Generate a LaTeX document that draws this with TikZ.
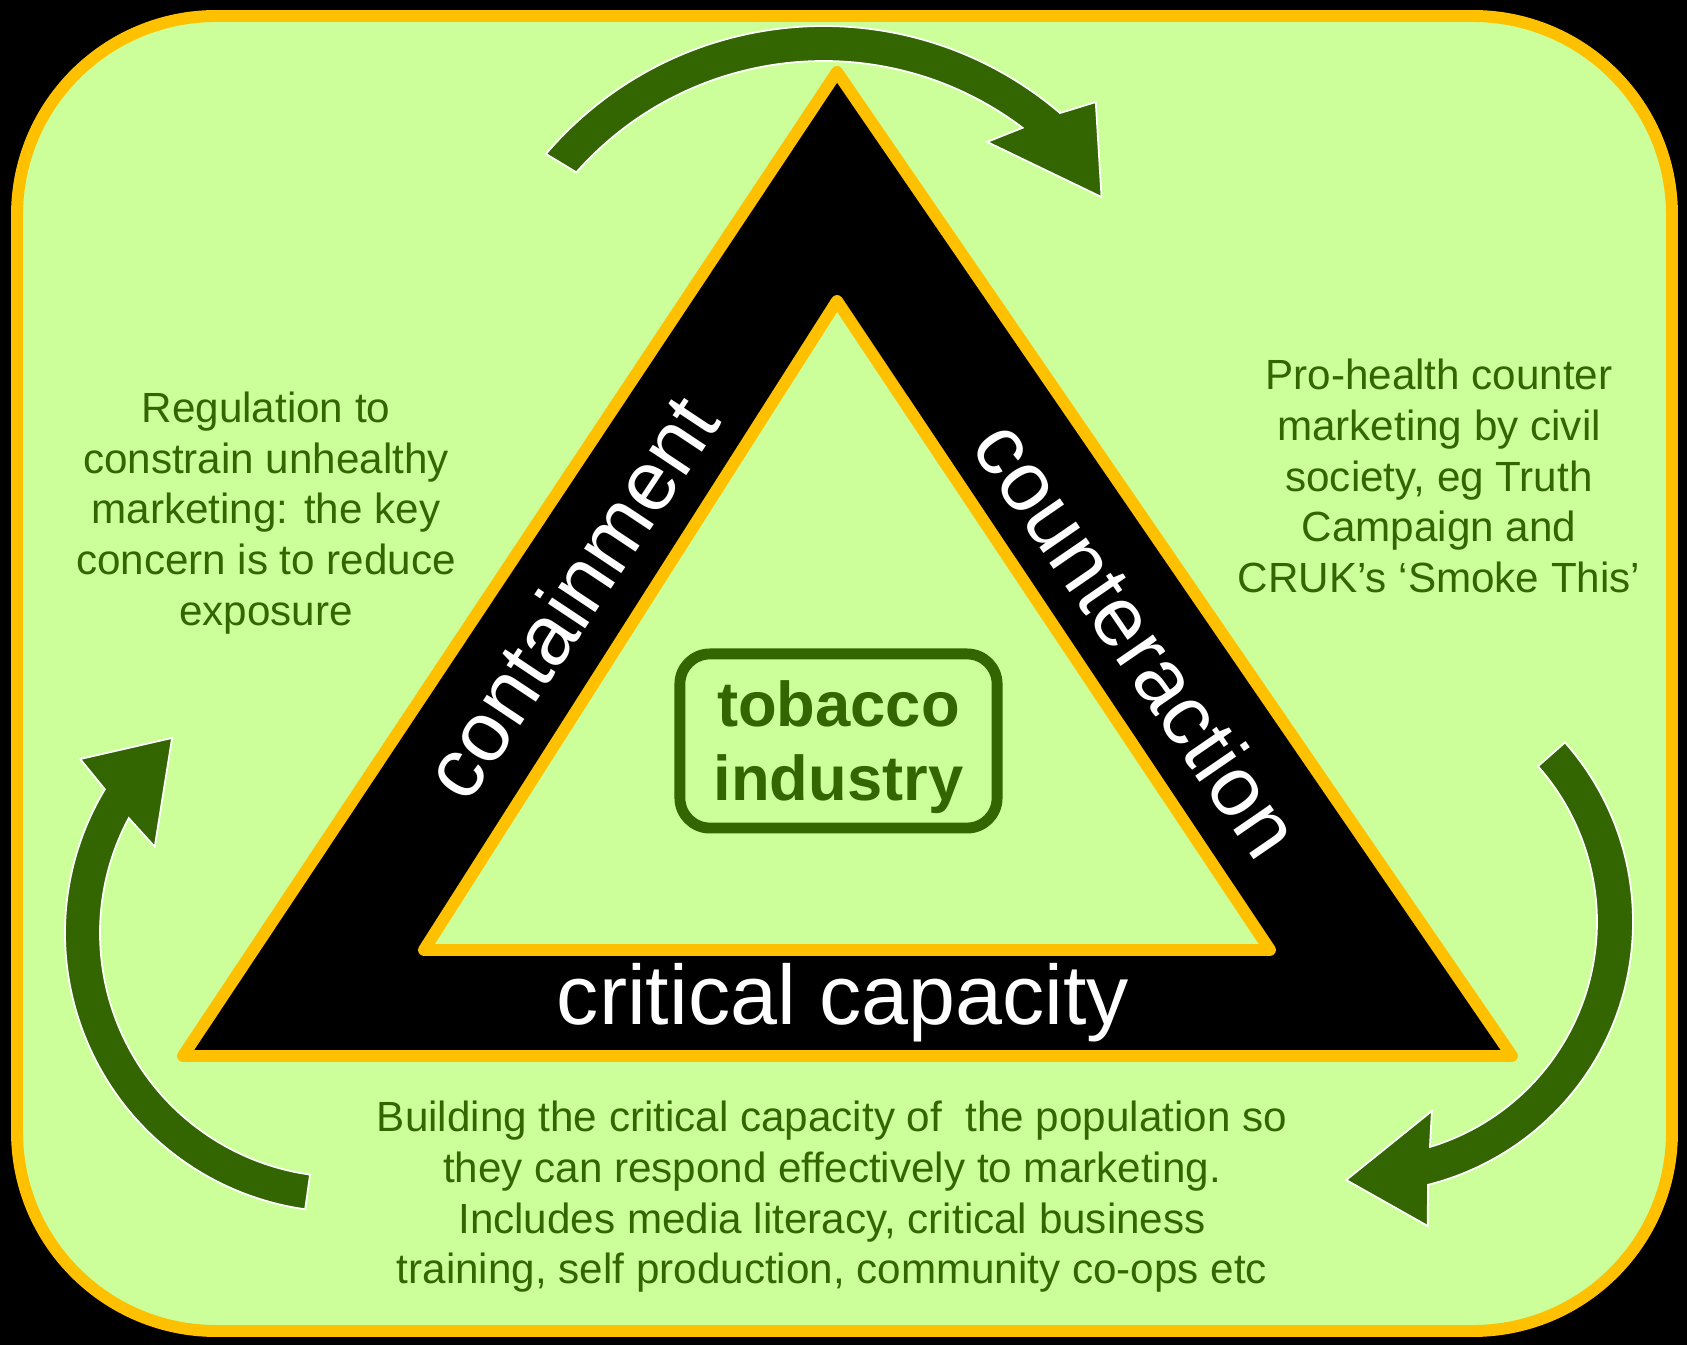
\documentclass[tikz,border=0pt]{standalone}
\usepackage{fontspec}
\setmainfont{Liberation Sans}
\definecolor{amber}{HTML}{FFC000}
\definecolor{paleleaf}{HTML}{CCFF99}
\definecolor{leafgreen}{HTML}{336600}
\tikzset{
  goldedge/.style={draw=amber,line width=3.4pt,line join=round},
  bandlabel/.style={text=white,inner sep=0pt,font=\fontsize{24}{28.8}\selectfont},
  note/.style={text=leafgreen,align=center,inner sep=0pt,font=\fontsize{12}{14.4}\selectfont},
  industrybox/.style={draw=leafgreen,line width=3.1pt,rounded corners=.3cm,minimum width=3.17cm,minimum height=1.74cm,text height=38pt,text depth=4pt,text=leafgreen,align=center,font=\bfseries\fontsize{18}{21}\selectfont},
  cyclearrow/.style={fill=leafgreen,draw=white,line width=.5pt},
}

\begin{document}
\begin{tikzpicture}[x=.01cm,y=.01cm]
  \useasboundingbox (0,0) rectangle (1687,1345);
  % page and rounded panel
  \fill[black] (0,0) rectangle (1687,1345);
  \draw[goldedge,fill=paleleaf,rounded corners=1.99cm] (17,14) rectangle (1672,1329);

  % triangle band
  \coordinate (top) at (837,1273);
  \coordinate (right) at (1512,289);
  \coordinate (left) at (183,289);
  \coordinate (intop) at (837,1044);
  \coordinate (inright) at (1270,395);
  \coordinate (inleft) at (424,395);
  \draw[goldedge,fill=black] (top) -- (right) -- (left) -- cycle;
  \draw[goldedge,fill=paleleaf] (intop) -- (inright) -- (inleft) -- cycle;

  \node[bandlabel,rotate=56.4] (contain) at (570,748) {containment};
  \node[bandlabel,rotate=-55.5] (counter) at (1138,707) {counteraction};
  \node[bandlabel,anchor=base] (critical) at (843,320) {critical capacity};

  \node[industrybox] (industry) at (838.5,604) {tobacco\\industry};

  % notes round the triangle
  \node[note] (regulation) at (266,832) {Regulation to\\constrain unhealthy\\marketing: the key\\concern is to reduce\\exposure};
  \node[note] (countermkt) at (1439,869) {Pro-health counter\\marketing by civil\\society, eg Truth\\Campaign and\\CRUK’s ‘Smoke This’};
  \node[note] (building) at (832,148) {Building the critical capacity of\ \ the population so\\they can respond effectively to marketing.\\Includes media literacy, critical business\\training, self production, community co-ops etc};

  % cycle arrows
  \begin{scope}[shift={(823.5,954)}]
    \filldraw[cyclearrow] (139.5:365) arc[start angle=139.5,end angle=49.6,radius=365]
      -- (46.7:397) -- (34.9:339) -- (56.7:298) -- (52.9:330)
      arc[start angle=52.9,end angle=138.5,radius=330] -- cycle;
  \end{scope}
  \begin{scope}[shift={(1362,423)}]
    \filldraw[cyclearrow] (41.5:271) arc[start angle=41.5,end angle=-75.9,radius=271]
      -- (-77.8:311) -- (-93.5:258.5) -- (-69.7:201.5) -- (-73.2:235)
      arc[start angle=-73.2,end angle=41.5,radius=235] -- cycle;
  \end{scope}
  \begin{scope}[shift={(344,412)}]
    \filldraw[cyclearrow] (262:279) arc[start angle=262,end angle=149,radius=279]
      -- (146.6:316) -- (131.4:260) -- (155.5:208) -- (151.9:244)
      arc[start angle=151.9,end angle=262,radius=244] -- cycle;
  \end{scope}
\end{tikzpicture}
\end{document}
